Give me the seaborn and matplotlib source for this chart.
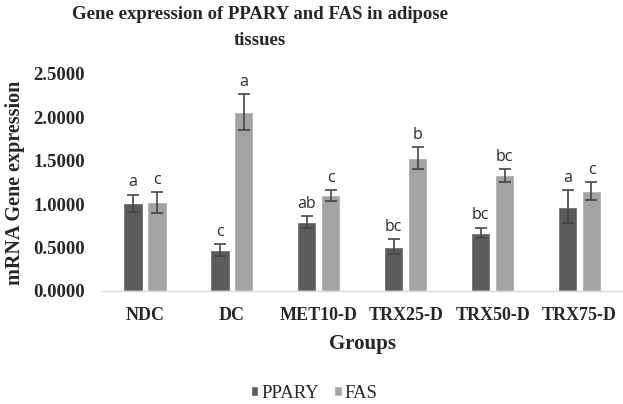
import numpy as np
import pandas as pd
import matplotlib
matplotlib.use("Agg")
import matplotlib.pyplot as plt
import seaborn as sns

groups = ["NDC", "DC", "MET10-D", "TRX25-D", "TRX50-D", "TRX75-D"]
series = ["PPARY", "FAS"]
ppary = [1.01, 0.47, 0.79, 0.51, 0.67, 0.97]
ppary_err = [0.10, 0.07, 0.07, 0.09, 0.06, 0.19]
fas = [1.02, 2.06, 1.10, 1.53, 1.33, 1.15]
fas_err = [0.12, 0.21, 0.06, 0.13, 0.07, 0.10]
ppary_letters = ["a", "c", "ab", "bc", "bc", "a"]
fas_letters = ["c", "a", "c", "b", "bc", "c"]
yticks = [0.0, 0.5, 1.0, 1.5, 2.0, 2.5]

df = pd.DataFrame({
    "Groups": groups * 2,
    "Series": [series[0]] * len(groups) + [series[1]] * len(groups),
    "Value": ppary + fas,
})

sns.set_theme(style="white")
plt.rcParams["font.family"] = ["Liberation Serif", "DejaVu Serif"]

fig = plt.figure(figsize=(6.23, 4.04), dpi=100)
ax = fig.add_axes([0.163, 0.280, 0.837, 0.537])

colors = ["#5c5c5c", "#a3a3a3"]
sns.barplot(data=df, x="Groups", y="Value", hue="Series", hue_order=series,
            order=groups, palette=colors, width=0.55, gap=0.2, errorbar=None,
            legend=False, ax=ax, saturation=1)

bar_containers = list(ax.containers)
errs = [ppary_err, fas_err]
letters = [ppary_letters, fas_letters]
for ci, cont in enumerate(bar_containers):
    xs = [b.get_x() + b.get_width() / 2 for b in cont]
    hs = [b.get_height() for b in cont]
    ax.errorbar(xs, hs, yerr=errs[ci], fmt="none", ecolor="#454545",
                elinewidth=1.2, capsize=4, capthick=1.2, zorder=3)
    for x, h, e, t in zip(xs, hs, errs[ci], letters[ci]):
        ax.annotate(t, (x, h + e), xytext=(0, 3), textcoords="offset points",
                    ha="center", va="bottom", fontsize=11.5,
                    family=["Open Sans", "DejaVu Sans"], color="#2b2b2b")

ax.set_ylim(0, 2.5)
ax.set_xlim(-0.5, 5.5)
ax.set_yticks(yticks)
ax.set_yticklabels([f"{v:.4f}" for v in yticks], fontsize=13.5, fontweight="bold")
ax.set_xticks(range(len(groups)))
ax.set_xticklabels(groups, fontsize=13, fontweight="bold")
ax.tick_params(axis="y", length=0, pad=12)
ax.tick_params(axis="x", length=0, pad=11.5)
ax.set_ylabel("mRNA Gene expression", fontsize=14.5, fontweight="bold", labelpad=6)
ax.set_xlabel("Groups", fontsize=15, fontweight="bold", labelpad=7)

for s in ["top", "right", "left"]:
    ax.spines[s].set_visible(False)
ax.spines["bottom"].set_color("#d9d9d9")
ax.spines["bottom"].set_linewidth(1.0)

fig.text(0.417, 0.985, "Gene expression of PPARY and FAS in adipose\ntissues",
         ha="center", va="top", fontsize=13.5, fontweight="bold", linespacing=1.65)

handles = [bar_containers[0][0], bar_containers[1][0]]
fig.legend(handles, series, loc="center", bbox_to_anchor=(314 / 623, 1 - 393 / 404),
           ncol=2, frameon=False, fontsize=13.5, handlelength=0.42, handleheight=0.42,
           handletextpad=0.15, columnspacing=0.8, borderpad=0.1)

fig.savefig("out.png", dpi=100)
